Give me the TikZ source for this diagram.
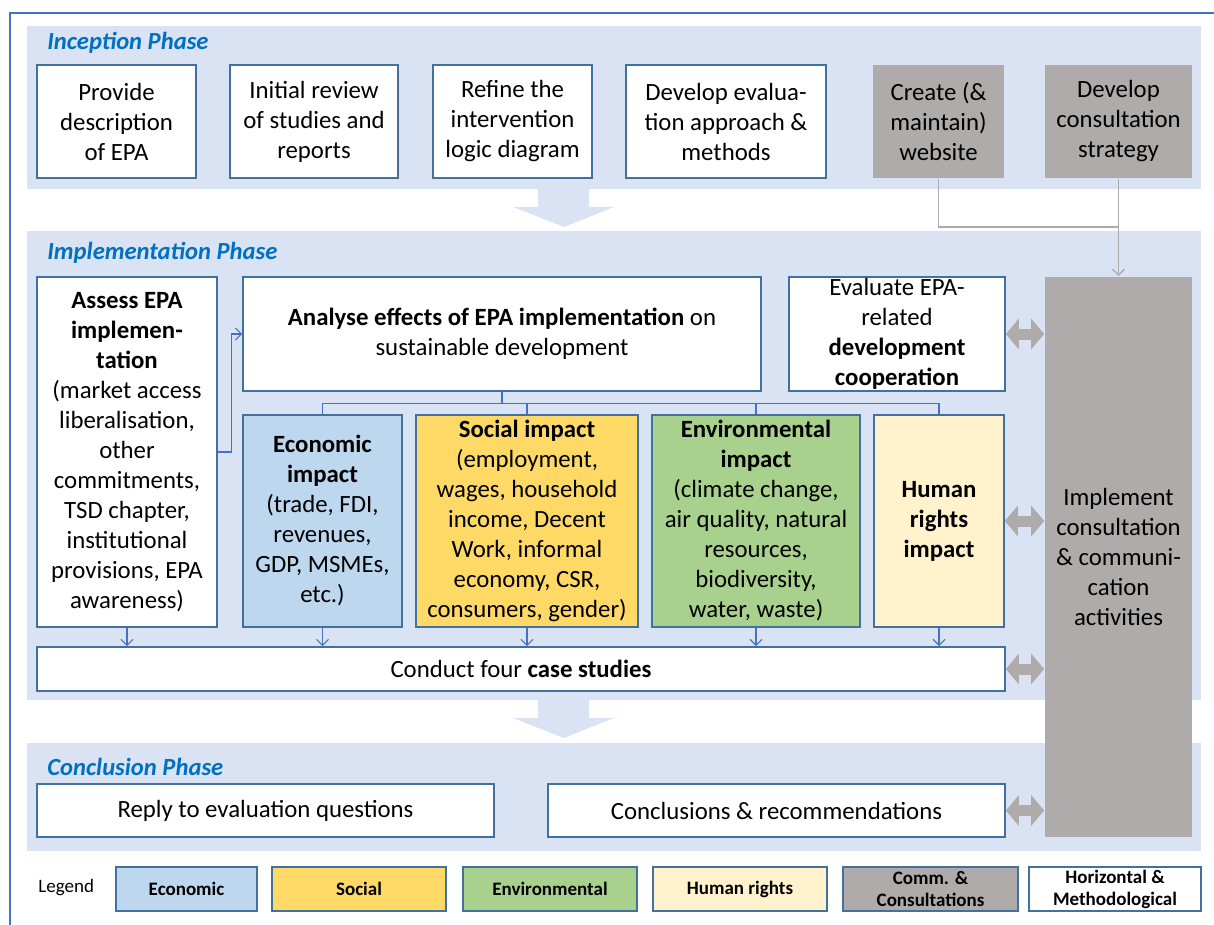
\documentclass[tikz,border=0pt]{standalone}
\usepackage{fontspec}
\setmainfont{Carlito}
\usetikzlibrary{arrows.meta}

\definecolor{bandblue}{HTML}{DAE3F3}
\definecolor{boxline}{HTML}{41719C}
\definecolor{linkblue}{HTML}{4472C4}
\definecolor{titleblue}{HTML}{0070C0}
\definecolor{econfill}{HTML}{BDD7EE}
\definecolor{socfill}{HTML}{FFD966}
\definecolor{envfill}{HTML}{A9D18E}
\definecolor{hrfill}{HTML}{FFF2CC}
\definecolor{commgrey}{HTML}{AFABAB}

\newcommand{\bodyfont}{\fontsize{12.4}{15}\selectfont}
\newcommand{\keyfont}{\fontsize{9.5}{11}\selectfont}

\tikzset{
  box/.style={draw=boxline,line width=0.8pt,fill=white,inner sep=0pt,align=center,font=\bodyfont},
  commbox/.style={box,draw=none,fill=commgrey},
  keybox/.style={box,font=\keyfont\bfseries},
  wh/.style 2 args={minimum width=#1*0.5pt,minimum height=#2*0.5pt},
  phasetitle/.style={anchor=west,inner sep=0pt,text=titleblue,font=\fontsize{12.3}{14}\selectfont\bfseries\itshape},
  link/.style={draw=linkblue,line width=0.6pt},
  linkarrow/.style={link,-{Straight Barb[length=3pt,width=6pt]}},
  glink/.style={draw=commgrey,line width=0.7pt},
  dbl/.style={draw=commgrey,line width=5.5pt,>={Triangle[length=6.5pt,width=15pt]},<->}
}

\begin{document}
\begin{tikzpicture}[x=0.5pt,y=-0.5pt]
\useasboundingbox (0,0) rectangle (1214,925);
% frame and phase bands
\draw[linkblue,line width=1pt] (10,925) -- (10,13) -- (1214,13);
\fill[bandblue] (27,26) rectangle (1201,189);
\fill[bandblue] (27,231) rectangle (1201,700);
\fill[bandblue] (27,743) rectangle (1201,851);
\fill[bandblue] (538,189) -- (589,189) -- (589,207) -- (614,207) -- (564,227) -- (513,207) -- (538,207) -- cycle;
\fill[bandblue] (538,700) -- (589,700) -- (589,718) -- (614,718) -- (564,738) -- (513,718) -- (538,718) -- cycle;
\node[phasetitle] (inception) at (47,43) {Inception Phase};
\node[phasetitle] (implementation) at (47,253) {Implementation Phase};
\node[phasetitle] (conclusion) at (47,767) {Conclusion Phase};

% inception
\node[box,wh={159}{113}] (describe) at (116.5,121.5) {Provide\\description\\of EPA};
\node[box,wh={168}{113}] (review) at (314,121.5) {Initial review\\of studies and\\reports};
\node[box,wh={159}{113}] (refine) at (512.5,121.5) {Refine the\\intervention\\logic diagram};
\node[box,wh={200}{113}] (approach) at (726,121.5) {Develop evalua-\\tion approach \&\\methods};
\node[commbox,wh={131}{113}] (website) at (938.5,121.5) {Create (\&\\maintain)\\website};
\node[commbox,wh={147}{113}] (strategy) at (1118.5,121.5) {Develop\\consultation\\strategy};

% implementation
\node[box,wh={180}{350}] (assess) at (127,452) {\textbf{Assess EPA}\\\textbf{implemen-}\\\textbf{tation}\\(market access\\liberalisation,\\other\\commitments,\\TSD chapter,\\institutional\\provisions, EPA\\awareness)};
\node[box,wh={518}{114}] (analyse) at (502,334) {\textbf{Analyse effects of EPA implementation} on\\sustainable development};
\node[box,wh={216}{114}] (evaluate) at (897,334) {Evaluate EPA-\\related\\\textbf{development}\\\textbf{cooperation}};
\node[commbox,wh={147}{560}] (implement) at (1118.5,557) {Implement\\consultation\\\& communi-\\cation\\activities};
\node[box,fill=econfill,wh={159}{212}] (econ) at (322.5,521) {\textbf{Economic}\\\textbf{impact}\\(trade, FDI,\\revenues,\\GDP, MSMEs,\\etc.)};
\node[box,fill=socfill,wh={222}{212}] (social) at (527,521) {\textbf{Social impact}\\(employment,\\wages, household\\income, Decent\\Work, informal\\economy, CSR,\\consumers, gender)};
\node[box,fill=envfill,wh={208}{212}] (environ) at (756,521) {\textbf{Environmental}\\\textbf{impact}\\(climate change,\\air quality, natural\\resources,\\biodiversity,\\water, waste)};
\node[box,fill=hrfill,wh={130}{212}] (rights) at (939,521) {\textbf{Human}\\\textbf{rights}\\\textbf{impact}};
\node[box,wh={968}{44}] (cases) at (521,669) {Conduct four \textbf{case studies}};

% conclusion
\node[box,wh={457}{53}] (reply) at (265.5,810.5) {Reply to evaluation questions};
\node[box,wh={457}{53}] (recommend) at (776.5,810.5) {Conclusions \& recommendations};

% connectors
\draw[linkarrow] (assess.east) -- ++(14,0) |- (analyse.west);
\foreach \n in {econ,social,environ,rights}
  \draw[link] (analyse.south) -- ++(0,12) -| (\n.north);
\foreach \n in {assess,econ,social,environ,rights}
  \draw[linkarrow] (\n.south) -- (\n.south |- cases.north);
\coordinate (join) at (1118.5,227);
\draw[glink] (website.south) |- (join);
\draw[glink,-{Straight Barb[length=3pt,width=6pt]}] (strategy.south) -- (implement.north);
\foreach \n in {evaluate,rights,cases,recommend}
  \draw[dbl] (\n.east) -- (\n.east -| implement.west);

% legend
\node[anchor=west,inner sep=0pt,font=\keyfont] (legend) at (38,888) {Legend};
\foreach \nm/\cx/\w/\col/\txt in {econkey/186.5/141/econfill/Economic,
    sockey/359/174/socfill/Social,
    envkey/550/174/envfill/Environmental,
    rightskey/740/174/hrfill/Human rights,
    commkey/930.5/175/commgrey/{Comm. \&\\Consultations},
    horizkey/1115/172/white/{Horizontal \&\\Methodological}}
  \node[keybox,fill=\col,wh={\w}{44}] (\nm) at (\cx,889) {\txt};
\end{tikzpicture}
\end{document}
